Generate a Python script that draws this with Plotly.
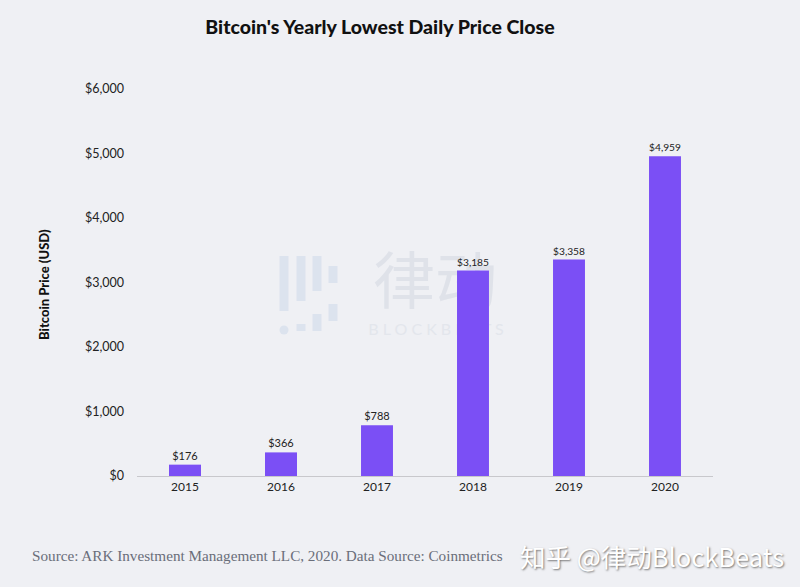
import plotly.graph_objects as go

years = ["2015", "2016", "2017", "2018", "2019", "2020"]
prices = [176, 366, 788, 3185, 3358, 4959]
price_labels = ["$176", "$366", "$788", "$3,185", "$3,358", "$4,959"]
y_ticks = [0, 1000, 2000, 3000, 4000, 5000, 6000]
y_tick_labels = ["$0", "$1,000", "$2,000", "$3,000", "$4,000", "$5,000", "$6,000"]

BG = "#EFF0F4"
BAR = "#7B4FF5"
W, H = 800, 587
ML, MR, MT, MB = 137, 87, 89, 111


def px(x):
    return (x - ML) / (W - ML - MR)


def py(y):
    return (H - MB - y) / (H - MT - MB)


fig = go.Figure()
fig.add_trace(go.Bar(
    x=years, y=prices, text=price_labels, textposition="outside",
    textfont=dict(family="Lato", size=11, color="#222"),
    marker=dict(color=BAR, line=dict(width=0)),
    cliponaxis=False, hoverinfo="skip",
))

# watermark (decorative, drawn beneath the bars)
fig.add_shape(type="rect", xref="paper", yref="paper", x0=px(350), x1=px(520),
              y0=py(312), y1=py(262), line=dict(width=0), fillcolor="rgba(0,0,0,0)",
              layer="below",
              label=dict(text="律动", textposition="middle center",
                         font=dict(family="Noto Sans CJK SC", size=62, color="#DFE2E9")))
fig.add_shape(type="rect", xref="paper", yref="paper", x0=px(350), x1=px(522),
              y0=py(338), y1=py(318), line=dict(width=0), fillcolor="rgba(0,0,0,0)",
              layer="below",
              label=dict(text="B L O C K B E A T S", textposition="middle center",
                         font=dict(family="Lato", size=16, color="#E3E6EC")))
logo_segments = [(284, 256, 311), (301, 256, 301), (301, 324, 331), (317, 256, 291),
                 (317, 314, 331), (333, 266, 283), (333, 304, 321)]
for x0, y0, y1 in logo_segments:
    fig.add_shape(type="line", xref="paper", yref="paper", x0=px(x0), x1=px(x0),
                  y0=py(y0), y1=py(y1), line=dict(color="#DCE3EE", width=9), layer="below")
fig.add_shape(type="circle", xref="paper", yref="paper", x0=px(279.5), x1=px(288.5),
              y0=py(325.5), y1=py(334.5), fillcolor="#DCE3EE", line=dict(width=0), layer="below")

fig.update_layout(
    width=W, height=H,
    paper_bgcolor=BG, plot_bgcolor=BG,
    margin=dict(l=ML, r=MR, t=MT, b=MB),
    bargap=0.667,
    showlegend=False,
    title=dict(text="Bitcoin's Yearly Lowest Daily Price Close", x=px(380), xanchor="center",
               y=1 - 27 / H, yanchor="middle", xref="paper",
               font=dict(family="Lato", size=19.5, color="#111", weight=900)),
    xaxis=dict(showgrid=False, showline=True, linecolor="#C8C8CC", linewidth=1,
               ticks="", tickfont=dict(family="Lato", size=12, color="#222")),
    yaxis=dict(range=[0, 6000], tickvals=y_ticks, ticktext=y_tick_labels, showgrid=False,
               zeroline=False, showline=False, ticks="", ticklabelstandoff=12,
               tickfont=dict(family="Lato", size=12.5, color="#222")),
)

fig.add_annotation(text="Bitcoin Price (USD)", x=px(44), y=py(285), xref="paper", yref="paper",
                   textangle=-90, showarrow=False, xanchor="center", yanchor="middle",
                   font=dict(family="Lato", size=13, color="#111", weight=900))
fig.add_annotation(text="Source: ARK Investment Management LLC, 2020. Data Source: Coinmetrics",
                   x=px(30), y=py(555), xref="paper", yref="paper", xanchor="left",
                   yanchor="middle", showarrow=False,
                   font=dict(family="Liberation Serif", size=15.2, color="#6A6E7A"))
fig.add_annotation(text="知乎 @律动BlockBeats", x=px(786), y=py(555), xref="paper", yref="paper",
                   xanchor="right", yanchor="middle", showarrow=False,
                   font=dict(family="Noto Sans CJK SC", size=25.5, color="#FFFFFF",
                             shadow="1px 1px 2px #777"))

fig.write_html("out.html", config={"displayModeBar": False},
               post_script="document.body.style.margin='0px';")
